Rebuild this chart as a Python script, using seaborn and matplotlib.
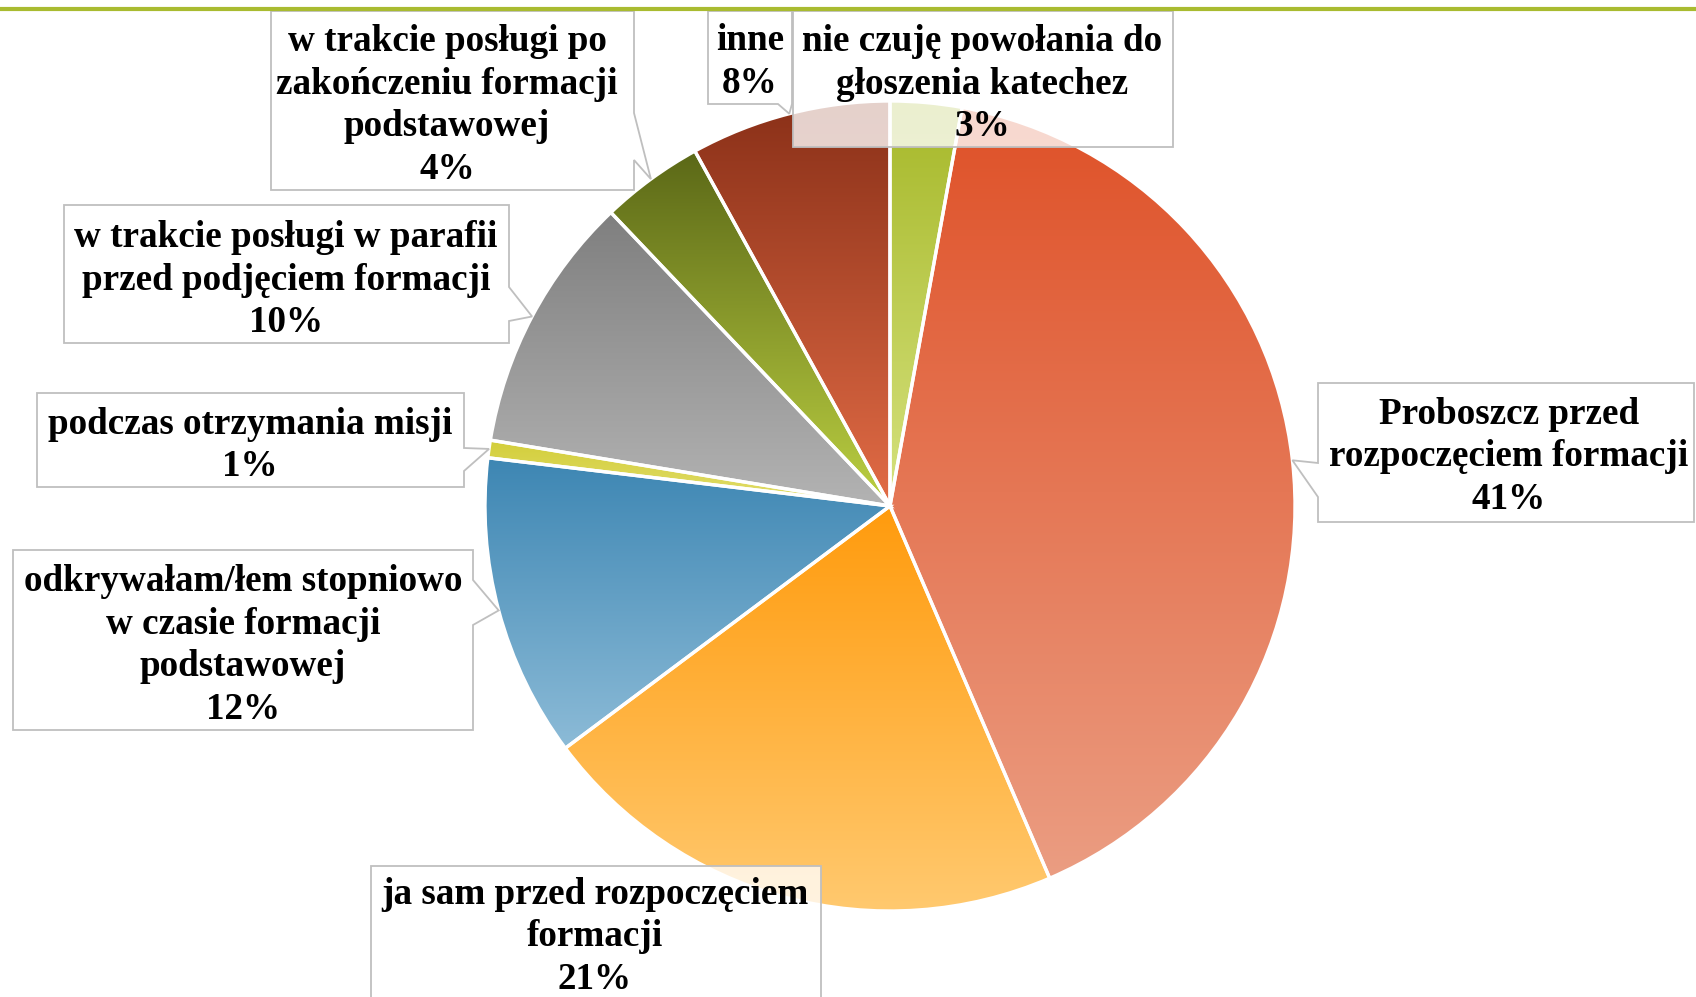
import numpy as np
import matplotlib
matplotlib.use("Agg")
import matplotlib.pyplot as plt
from matplotlib.colors import to_rgb
from matplotlib.patches import Polygon
import seaborn as sns

sns.set_theme(style="white")
plt.rcParams['font.family'] = ['Liberation Serif', 'DejaVu Serif']

# Slices, clockwise from the top
categories = [
    "nie czuję powołania do\ngłoszenia katechez",
    "Proboszcz przed\nrozpoczęciem formacji",
    "ja sam przed rozpoczęciem\nformacji",
    "odkrywałam/łem stopniowo\nw czasie formacji\npodstawowej",
    "podczas otrzymania misji",
    "w trakcie posługi w parafii\nprzed podjęciem formacji",
    "w trakcie posługi po\nzakończeniu formacji\npodstawowej",
    "inne",
]
shares = [2.85, 40.7, 21.25, 12.1, 0.7, 10.3, 4.1, 8.0]

# Gradient colours (top -> bottom of each slice)
top_colors = ["#a6b829", "#df5128", "#ff9b0d", "#3d86b3", "#d3ce3a",
              "#7f7f7f", "#5b6817", "#8a3018"]
bottom_colors = ["#d6e27e", "#eb9d82", "#ffc96f", "#8cbbd7", "#e2de6e",
                 "#b3b3b3", "#bcd042", "#e26c46"]

# Callout boxes: x0, y0, x1, y1, pointer side, pointer base (a, b), text centre
boxes = {
    0: (793, 11, 1173, 147, None, None, (982, 81.5)),
    1: (1318, 383, 1694, 522, "left", (463, 497), (1509, 454)),
    2: (371, 866, 821, 1010, None, None, (595, 934)),
    3: (13, 550, 473, 730, "right", (580, 625), (243, 643)),
    4: (37, 393, 464, 487, "right", (448, 471), (250, 443)),
    5: (64, 205, 509, 343, "right", (287, 321), (286, 277.5)),
    6: (271, 11, 634, 190, "right", (113, 160), (447, 103)),
    7: (708, 11, 792, 104, "bottom", (778, 792), (750, 59.5)),
}

W, H = 1696, 997
cx, cy, R = 890, 506, 405

fig = plt.figure(figsize=(W / 100, H / 100), dpi=100)
ax = fig.add_axes([0, 0, 1, 1])

wedges, _ = ax.pie(shares, startangle=-90, counterclock=True,
                   center=(cx, cy), radius=R, frame=True,
                   wedgeprops=dict(facecolor='none', edgecolor='white',
                                   linewidth=2.4, zorder=2))

# gradient fill for each slice, clipped to the wedge
t = np.linspace(0, 1, 256)[:, None, None]
for w, c0, c1 in zip(wedges, top_colors, bottom_colors):
    ext = w.get_path().get_extents()
    a, b = np.array(to_rgb(c0)), np.array(to_rgb(c1))
    img = a + (b - a) * t
    im = ax.imshow(img, extent=(ext.x0, ext.x1, ext.y0, ext.y1),
                   origin='lower', aspect='auto', interpolation='bilinear',
                   zorder=1)
    im.set_clip_path(w)

fs = 26.7
step = 42.5
for i, (x0, y0, x1, y1, side, base, tc) in boxes.items():
    w = wedges[i]
    th = np.deg2rad((w.theta1 + w.theta2) / 2)
    tip = (cx + R * np.cos(th), cy + R * np.sin(th))
    verts = [(x0, y0), (x1, y0)]
    if side == "right":
        verts += [(x1, base[0]), tip, (x1, base[1])]
    verts += [(x1, y1)]
    if side == "bottom":
        verts += [(base[1], y1), tip, (base[0], y1)]
    verts += [(x0, y1)]
    if side == "left":
        verts += [(x0, base[1]), tip, (x0, base[0])]
    ax.add_patch(Polygon(verts, closed=True, facecolor=(1, 1, 1, 0.78),
                         edgecolor='#bfbfbf', linewidth=1.3, zorder=4,
                         joinstyle='miter'))
    lines = categories[i].split("\n") + [f"{round(shares[i])}%"]
    n = len(lines)
    for k, line in enumerate(lines):
        yk = tc[1] + (k - (n - 1) / 2) * step
        ax.text(tc[0], yk + 12, line, ha='center', va='baseline',
                fontsize=fs, fontweight='bold', color='black', zorder=5)

# olive line along the top edge
ax.axhline(9, color='#a9bb30', linewidth=3, zorder=6)

ax.set_xlim(0, W)
ax.set_ylim(H, 0)
ax.set_axis_off()

fig.savefig("out.png", dpi=100)
